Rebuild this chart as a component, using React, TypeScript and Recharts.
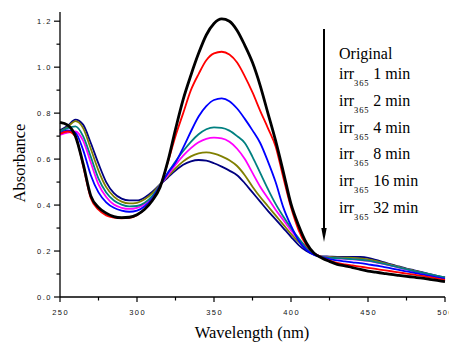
import React from 'react';
import { LineChart, Line, XAxis, YAxis } from 'recharts';

const wavelengths = [250, 255, 260, 265, 270, 275, 280, 285, 290, 295, 300, 305, 310, 315, 320, 325, 330, 335, 340, 345, 350, 355, 360, 365, 370, 375, 380, 385, 390, 395, 400, 405, 410, 415, 420, 425, 430, 435, 440, 445, 450, 455, 460, 465, 470, 475, 480, 485, 490, 495, 500];

const original = [0.760, 0.748, 0.700, 0.580, 0.440, 0.390, 0.365, 0.350, 0.345, 0.347, 0.358, 0.382, 0.420, 0.478, 0.590, 0.730, 0.860, 0.965, 1.060, 1.140, 1.190, 1.210, 1.200, 1.160, 1.095, 1.020, 0.920, 0.800, 0.680, 0.545, 0.405, 0.310, 0.235, 0.190, 0.170, 0.155, 0.142, 0.135, 0.128, 0.120, 0.113, 0.108, 0.103, 0.098, 0.094, 0.090, 0.086, 0.082, 0.077, 0.072, 0.067];
const irr1 = [0.710, 0.720, 0.700, 0.570, 0.430, 0.380, 0.355, 0.345, 0.342, 0.344, 0.356, 0.382, 0.422, 0.480, 0.585, 0.700, 0.800, 0.900, 0.970, 1.030, 1.060, 1.067, 1.055, 1.020, 0.960, 0.890, 0.810, 0.735, 0.655, 0.520, 0.390, 0.290, 0.225, 0.190, 0.172, 0.158, 0.148, 0.142, 0.137, 0.132, 0.127, 0.122, 0.117, 0.112, 0.107, 0.102, 0.097, 0.092, 0.086, 0.080, 0.074];
const irr2 = [0.712, 0.725, 0.715, 0.640, 0.530, 0.455, 0.412, 0.388, 0.376, 0.371, 0.376, 0.395, 0.430, 0.485, 0.540, 0.585, 0.650, 0.720, 0.785, 0.830, 0.857, 0.864, 0.852, 0.820, 0.775, 0.725, 0.670, 0.590, 0.500, 0.390, 0.310, 0.245, 0.205, 0.183, 0.173, 0.165, 0.159, 0.155, 0.151, 0.147, 0.142, 0.137, 0.131, 0.125, 0.118, 0.111, 0.105, 0.098, 0.092, 0.085, 0.079];
const irr4 = [0.720, 0.735, 0.742, 0.700, 0.610, 0.515, 0.455, 0.420, 0.402, 0.394, 0.396, 0.410, 0.440, 0.488, 0.540, 0.590, 0.635, 0.675, 0.708, 0.730, 0.738, 0.736, 0.724, 0.700, 0.670, 0.610, 0.540, 0.470, 0.405, 0.350, 0.300, 0.255, 0.215, 0.188, 0.174, 0.171, 0.169, 0.167, 0.165, 0.162, 0.158, 0.152, 0.145, 0.137, 0.129, 0.121, 0.113, 0.106, 0.099, 0.092, 0.085];
const irr8 = [0.705, 0.715, 0.720, 0.680, 0.585, 0.490, 0.435, 0.402, 0.388, 0.383, 0.388, 0.405, 0.437, 0.487, 0.530, 0.575, 0.615, 0.648, 0.673, 0.688, 0.693, 0.690, 0.675, 0.645, 0.600, 0.540, 0.480, 0.430, 0.380, 0.335, 0.290, 0.250, 0.215, 0.190, 0.174, 0.171, 0.168, 0.166, 0.164, 0.161, 0.157, 0.151, 0.144, 0.136, 0.128, 0.120, 0.112, 0.105, 0.097, 0.090, 0.082];
const irr16 = [0.720, 0.740, 0.765, 0.735, 0.645, 0.550, 0.478, 0.437, 0.415, 0.407, 0.410, 0.425, 0.452, 0.490, 0.525, 0.560, 0.590, 0.612, 0.625, 0.629, 0.624, 0.612, 0.595, 0.570, 0.530, 0.480, 0.435, 0.395, 0.355, 0.315, 0.275, 0.240, 0.210, 0.188, 0.176, 0.174, 0.172, 0.171, 0.170, 0.168, 0.164, 0.157, 0.149, 0.140, 0.131, 0.122, 0.114, 0.106, 0.098, 0.090, 0.083];
const irr32 = [0.725, 0.745, 0.772, 0.750, 0.670, 0.580, 0.500, 0.452, 0.428, 0.420, 0.420, 0.433, 0.458, 0.490, 0.520, 0.550, 0.575, 0.590, 0.596, 0.593, 0.582, 0.567, 0.550, 0.530, 0.495, 0.455, 0.415, 0.375, 0.338, 0.300, 0.262, 0.226, 0.200, 0.184, 0.177, 0.176, 0.175, 0.175, 0.175, 0.174, 0.170, 0.162, 0.152, 0.142, 0.133, 0.124, 0.116, 0.108, 0.100, 0.092, 0.085];

const seriesKeys = ['original', 'irr1', 'irr2', 'irr4', 'irr8', 'irr16', 'irr32'];
const seriesColors = ['#000000', '#ff0000', '#0000ff', '#008080', '#ff00ff', '#808000', '#000080'];
const irrTimes = ['1 min', '2 min', '4 min', '8 min', '16 min', '32 min'];

const yTicks = [0, 0.1, 0.2, 0.3, 0.4, 0.5, 0.6, 0.7, 0.8, 0.9, 1.0, 1.1, 1.2];
const xTicks = [250, 275, 300, 325, 350, 375, 400, 425, 450, 475, 500];

const data = wavelengths.map((nm, i) => ({
  nm,
  original: original[i],
  irr1: irr1[i],
  irr2: irr2[i],
  irr4: irr4[i],
  irr8: irr8[i],
  irr16: irr16[i],
  irr32: irr32[i],
}));

const tickFont = { fontFamily: '"Liberation Sans", Arial, sans-serif', fontSize: 7.5, letterSpacing: 1.5, fill: '#111' };

const YTick = (props: any) => {
  const { x, y, payload } = props;
  const v = payload.value;
  const major = Math.round(v * 10) % 2 === 0;
  return (
    <g>
      <line x1={x} x2={x - (major ? 6 : 3.5)} y1={y} y2={y} stroke="#000" strokeWidth={1.2} />
      {major && (
        <text x={x - 8} y={y + 2.7} textAnchor="end" style={tickFont as any}>
          {v.toFixed(1)}
        </text>
      )}
    </g>
  );
};

const XTick = (props: any) => {
  const { x, y, payload } = props;
  const v = payload.value;
  const major = v % 50 === 0;
  return (
    <g>
      <line x1={x} x2={x} y1={y} y2={y + (major ? 5 : 3.5)} stroke="#000" strokeWidth={1.2} />
      {major && (
        <text x={x + 0.7} y={y + 17.5} textAnchor="middle" style={tickFont as any}>
          {String(v)}
        </text>
      )}
    </g>
  );
};

const serif = '"Liberation Serif", "Times New Roman", serif';
const legendBaselines = [79, 106, 132.7, 159.3, 186, 212.7];

export default function App() {
  const drawOrder = [6, 5, 4, 3, 2, 1, 0];
  return (
    <div style={{ position: 'fixed', left: 0, top: 0, width: 449, height: 343, overflow: 'hidden', background: '#fff' }}>
      <div style={{ position: 'absolute', left: 0, top: 0 }}>
        <LineChart width={470} height={343} data={data} margin={{ top: 12, right: 25, bottom: 0, left: 0 }}>
          <XAxis
            dataKey="nm"
            type="number"
            domain={[250, 500]}
            ticks={xTicks}
            interval={0}
            height={46}
            tickSize={0}
            tickMargin={0}
            tickLine={false}
            axisLine={{ stroke: '#000', strokeWidth: 1.3 }}
            tick={<XTick />}
          />
          <YAxis
            type="number"
            domain={[0, 1.24]}
            ticks={yTicks}
            interval={0}
            width={60}
            tickSize={0}
            tickMargin={0}
            tickLine={false}
            allowDataOverflow
            axisLine={{ stroke: '#000', strokeWidth: 1.3 }}
            tick={<YTick />}
          />
          {drawOrder.map((i) => (
            <Line
              key={seriesKeys[i]}
              dataKey={seriesKeys[i]}
              type="monotone"
              stroke={seriesColors[i]}
              strokeWidth={i === 0 ? 2.8 : 1.8}
              dot={false}
              activeDot={false}
              isAnimationActive={false}
            />
          ))}
        </LineChart>
      </div>
      <svg width={449} height={343} style={{ position: 'absolute', left: 0, top: 0, pointerEvents: 'none' }}>
        <text x={24.5} y={163} transform="rotate(-90 24.5 163)" textAnchor="middle" fontFamily={serif} fontSize={16.5} fill="#000">
          Absorbance
        </text>
        <text x={252} y={338} textAnchor="middle" fontFamily={serif} fontSize={16.5} fill="#000">
          Wavelength (nm)
        </text>
        <line x1={324} y1={29} x2={324} y2={230} stroke="#000" strokeWidth={2} />
        <polygon points="321.3,228 326.7,228 324,242" fill="#000" />
        <text x={339} y={59} fontFamily={serif} fontSize={16} fill="#000">
          Original
        </text>
        {irrTimes.map((t, i) => (
          <text key={t} x={339} y={legendBaselines[i]} fontFamily={serif} fontSize={16} fill="#000">
            irr
            <tspan dy={7} fontSize={8.5} letterSpacing={0.8}>365</tspan>
            <tspan dy={-7} dx={4}>{t}</tspan>
          </text>
        ))}
      </svg>
    </div>
  );
}
